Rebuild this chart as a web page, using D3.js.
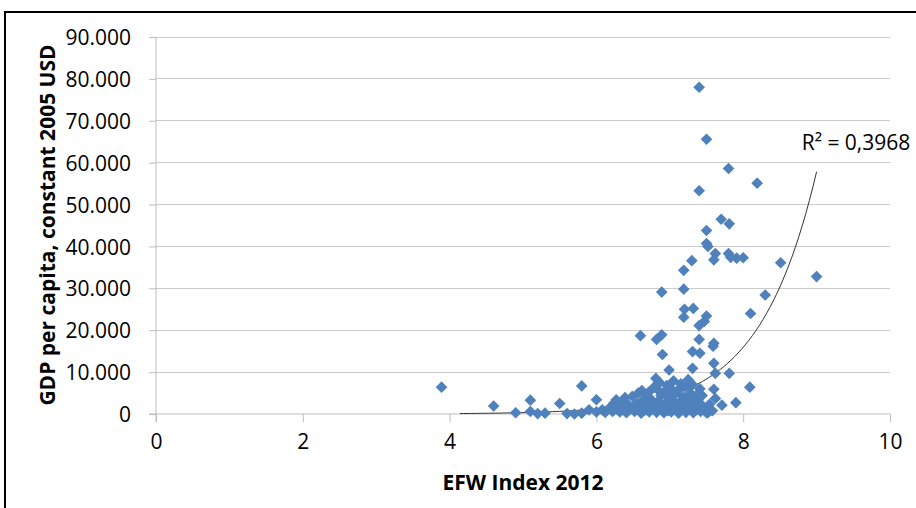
<!DOCTYPE html>
<html><head><meta charset="utf-8">
<script src="https://cdn.jsdelivr.net/npm/d3@7"></script>
<style>body{margin:0;background:#fff}svg{display:block}text{font-family:"Open Sans",sans-serif;fill:#000}</style>
</head><body><svg id="c" width="916" height="508"></svg>
<script>
// EFW index (x) and GDP per capita (y)
const efw = [
  7.40,7.50,7.80,8.19,7.40,7.70,7.81,7.50,7.50,7.52,7.62,7.60,7.80,7.83,7.91,8.00,8.51,7.30,7.19,9.00,
  6.89,7.19,8.30,7.20,7.32,7.19,7.50,7.47,7.40,8.10,6.60,6.82,6.89,7.40,7.60,7.59,7.31,7.41,6.90,7.31,
  6.99,7.60,7.81,7.62,6.81,8.09,7.60,7.39,7.62,7.71,7.90,7.50,
  3.89,4.60,4.90,5.10,5.10,5.20,5.30,5.50,5.60,5.70,5.80,5.90,5.80,6.00,6.00,
  6.12,6.08,6.22,6.18,6.24,6.32,6.28,6.34,6.27,6.41,6.37,6.44,6.39,6.52,6.47,6.55,6.49,6.57,
  6.61,6.66,6.58,6.63,6.68,6.62,6.72,6.77,6.69,6.74,6.71,6.78,6.82,6.86,6.79,6.84,6.88,6.83,6.86,
  6.92,6.97,6.90,6.95,6.99,6.93,6.96,7.02,7.06,7.00,7.04,7.08,7.01,7.05,7.12,7.16,7.10,7.14,7.18,7.11,7.15,
  7.22,7.26,7.20,7.24,7.28,7.21,7.25,7.32,7.36,7.30,7.34,7.38,7.31,7.42,7.46,7.40,7.44,7.41,7.52,7.48,7.54,7.58
];
const gdp = [
  78000,65600,58600,55100,53300,46500,45400,43800,40700,40000,38300,36800,38300,37400,37200,37300,36100,36600,34300,32800,
  29100,29800,28400,25000,25200,23100,23400,22100,21100,24000,18700,17800,18900,17800,16900,16200,14900,14500,14200,10900,
  10500,12100,9700,9700,8500,6400,5900,4500,3700,2100,2700,300,
  6400,1900,300,3300,600,100,200,2500,100,0,200,1000,6700,3400,500,
  400,1000,600,1500,2600,500,1200,2900,3400,300,1000,2100,3900,600,1400,2500,4200,5000,
  200,900,1800,3200,4600,5600,500,1300,2400,3600,5200,6300,400,1100,2000,3000,4400,5900,7500,
  300,800,1600,2700,3800,5400,6800,500,1200,2200,3300,4900,6100,7900,200,900,1900,2900,4100,5700,7200,
  400,1400,2500,3600,5000,6500,8200,300,1000,2100,3400,4800,7000,600,1600,2800,4400,6000,300,1200,2300,800
];
const xTicks = [0,2,4,6,8,10];
const yTicks = [0,10000,20000,30000,40000,50000,60000,70000,80000,90000];
const xTitle = "EFW Index 2012";
const yTitle = "GDP per capita, constant 2005 USD";
const r2Label = "R² = 0,3968";
// exponential trendline y = a·e^(b·x), coefficients
const trendA = 0.525, trendB = 1.29, trendFrom = 4.14, trendTo = 9.0;

const svg = d3.select("#c");
const x = d3.scaleLinear().domain([0,10]).range([156,890]);
const y = d3.scaleLinear().domain([0,90000]).range([414,37]);
const fmt = d3.formatLocale({decimal:",",thousands:".",grouping:[3],currency:["",""]}).format(",d");

// outer frame
svg.append("rect").attr("x",5).attr("y",12).attr("width",960).attr("height",560)
  .attr("fill","none").attr("stroke","#000").attr("stroke-width",2);

// gridlines
svg.append("g").selectAll("line").data(yTicks.filter(d=>d>0)).join("line")
  .attr("x1",x(0)).attr("x2",x(10)).attr("y1",d=>y(d)).attr("y2",d=>y(d))
  .attr("stroke","#cbcbcb").attr("stroke-width",1).attr("shape-rendering","crispEdges");

// y axis
const ya = svg.append("g").attr("transform",`translate(${x(0)},0)`)
  .call(d3.axisLeft(y).tickValues(yTicks).tickFormat(fmt).tickSize(7).tickPadding(18));
ya.select(".domain").attr("stroke","#bdbdbd").attr("d",`M0,${y(90000)}V${y(0)+8}`);
ya.selectAll(".tick line").attr("stroke","#bdbdbd");
ya.selectAll("text").attr("font-size",21).attr("font-family","Open Sans").attr("dy","0.36em");

// x axis
const xa = svg.append("g").attr("transform",`translate(0,${y(0)})`)
  .call(d3.axisBottom(x).tickValues(xTicks).tickFormat(d3.format("d")).tickSize(8).tickPadding(12));
xa.select(".domain").attr("stroke","#bdbdbd").attr("d",`M${x(0)-7},0H${x(10)}`);
xa.selectAll(".tick line").attr("stroke","#bdbdbd");
xa.selectAll("text").attr("font-size",21).attr("font-family","Open Sans");

// trendline
const tx = d3.range(0,101).map(i=>trendFrom+(trendTo-trendFrom)*i/100);
svg.append("path").datum(tx)
  .attr("d",d3.line().x(d=>x(d)).y(d=>y(trendA*Math.exp(trendB*d))))
  .attr("fill","none").attr("stroke","#333").attr("stroke-width",1);

// points
const pts = efw.map((v,i)=>({x:v,y:gdp[i]}));
svg.append("g").selectAll("path").data(pts).join("path")
  .attr("d",d3.symbol(d3.symbolSquare,68))
  .attr("transform",d=>`translate(${x(d.x)},${y(d.y)}) rotate(45)`)
  .attr("fill","#4F81BD");

// labels
svg.append("text").attr("x",856).attr("y",150).attr("text-anchor","middle")
  .attr("font-size",21).text(r2Label);
svg.append("text").attr("x",523).attr("y",490).attr("text-anchor","middle")
  .attr("font-size",21).attr("font-weight","bold").text(xTitle);
svg.append("text").attr("transform","translate(55,225) rotate(-90)").attr("text-anchor","middle")
  .attr("font-size",21).attr("font-weight","bold").text(yTitle);
</script></body></html>
